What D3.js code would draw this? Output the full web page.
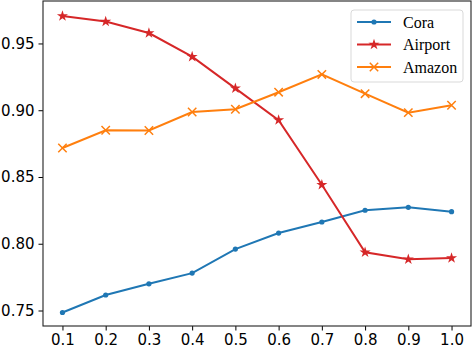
<!DOCTYPE html>
<html>
<head>
<meta charset="utf-8">
<script src="https://cdn.jsdelivr.net/npm/d3@7"></script>
<style>
  html, body { margin: 0; padding: 0; background: #fff; }
  svg { display: block; }
</style>
</head>
<body>
<div id="chart"></div>
<script>
const ratios = [0.1, 0.2, 0.3, 0.4, 0.5, 0.6, 0.7, 0.8, 0.9, 1.0]
const cora = [0.7485, 0.7616, 0.7700, 0.7780, 0.7960, 0.8080, 0.8163, 0.8251, 0.8273, 0.8240]
const airport = [0.9706, 0.9664, 0.9578, 0.9401, 0.9164, 0.8926, 0.8442, 0.7936, 0.7884, 0.7893]
const amazon = [0.8717, 0.8850, 0.8848, 0.8987, 0.9007, 0.9135, 0.9268, 0.9124, 0.8982, 0.9037]
const yTicks = [0.75, 0.80, 0.85, 0.90, 0.95]

const series = [
  { name: 'Cora', values: cora, color: '#1f77b4', marker: 'dot' },
  { name: 'Airport', values: airport, color: '#d62728', marker: 'star' },
  { name: 'Amazon', values: amazon, color: '#ff7f0e', marker: 'x' }
]

const width = 474; const height = 348
const mLeft = 43; const mRight = 471; const mTop = 1; const mBottom = 326

const svg = d3.select('#chart').append('svg')
  .attr('width', width).attr('height', height)

const x = d3.scaleLinear().domain([0.055, 1.045]).range([mLeft, mRight])
const y = d3.scaleLinear().domain([0.7384, 0.9818]).range([mBottom, mTop])

// axes
const xAxis = svg.append('g')
  .attr('transform', 'translate(0,' + mBottom + ')')
  .call(d3.axisBottom(x).tickValues(ratios).tickFormat(d3.format('.1f')).tickSizeOuter(0).tickSize(4.5).tickPadding(4))
const yAxis = svg.append('g')
  .attr('transform', 'translate(' + mLeft + ',0)')
  .call(d3.axisLeft(y).tickValues(yTicks).tickFormat(d3.format('.2f')).tickSizeOuter(0).tickSize(4.5).tickPadding(4))

;[xAxis, yAxis].forEach(g => {
  g.select('.domain').remove()
  g.selectAll('text').style('font-family', 'DejaVu Sans').style('font-size', '15px').style('fill', '#000')
  g.selectAll('line').attr('stroke', '#000').attr('stroke-width', 1)
})

// frame
svg.append('rect')
  .attr('x', mLeft).attr('y', mTop)
  .attr('width', mRight - mLeft).attr('height', mBottom - mTop)
  .attr('fill', 'none').attr('stroke', '#222').attr('stroke-width', 1.1)

const line = d3.line()
  .x((d, i) => x(ratios[i]))
  .y(d => y(d))

const star = d3.symbol().type(d3.symbolStar).size(38)

function drawMarker (g, type, color, px, py) {
  if (type === 'dot') {
    g.append('circle').attr('cx', px).attr('cy', py).attr('r', 2.6).attr('fill', color)
  } else if (type === 'star') {
    g.append('path').attr('d', star()).attr('transform', 'translate(' + px + ',' + py + ')').attr('fill', color)
  } else {
    const s = 4.2
    g.append('path')
      .attr('d', `M${px - s},${py - s}L${px + s},${py + s}M${px - s},${py + s}L${px + s},${py - s}`)
      .attr('stroke', color).attr('stroke-width', 1.5).attr('fill', 'none')
  }
}

series.forEach(s => {
  const g = svg.append('g')
  g.append('path')
    .datum(s.values)
    .attr('d', line)
    .attr('fill', 'none')
    .attr('stroke', s.color)
    .attr('stroke-width', 2)
  s.values.forEach((v, i) => drawMarker(g, s.marker, s.color, x(ratios[i]), y(v)))
})

// legend
const legend = svg.append('g').attr('transform', 'translate(351,10)')
legend.append('rect')
  .attr('width', 112).attr('height', 72).attr('rx', 3)
  .attr('fill', '#fff').attr('fill-opacity', 0.8)
  .attr('stroke', '#d9d9d9').attr('stroke-width', 1)

series.forEach((s, i) => {
  const ly = 12 + i * 22.5
  const g = legend.append('g')
  g.append('line').attr('x1', 6).attr('x2', 40).attr('y1', ly).attr('y2', ly)
    .attr('stroke', s.color).attr('stroke-width', 2)
  drawMarker(g, s.marker, s.color, 23, ly)
  g.append('text')
    .attr('x', 52).attr('y', ly).attr('dy', '0.35em')
    .style('font-family', 'Liberation Serif')
    .style('font-size', '16px')
    .style('fill', '#000')
    .text(s.name)
})
</script>
</body>
</html>
